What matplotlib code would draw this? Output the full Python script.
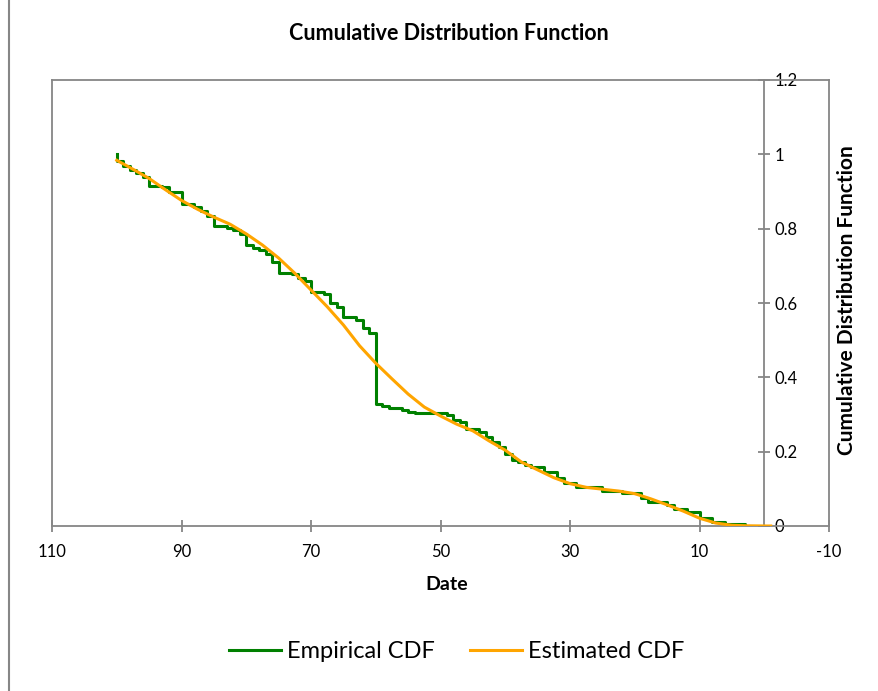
import matplotlib
matplotlib.use("Agg")
import matplotlib.pyplot as plt
from matplotlib.lines import Line2D
from matplotlib.ticker import FuncFormatter

plt.rcParams['font.family'] = ['Lato', 'DejaVu Sans']

# Empirical CDF: jump locations (descending) and level after each jump
emp_start = 1.0
emp_x = [100, 99, 98, 97, 96, 95, 93, 92, 90, 88, 87, 86, 85, 83, 82, 81, 80, 79, 78, 77,
         76, 75, 73, 72, 71, 70, 68, 67, 66, 65, 63, 62, 61, 60, 59, 58, 56, 55, 54, 49,
         48, 47, 46, 44, 43, 42, 41, 40, 39, 38, 37, 36, 34, 32, 31, 29, 25, 22, 19, 18,
         15, 14, 12, 10, 8, 6, 3, 0]
emp_y = [0.981, 0.969, 0.958, 0.951, 0.940, 0.915, 0.911, 0.898, 0.866, 0.859, 0.848, 0.835,
         0.808, 0.803, 0.797, 0.786, 0.756, 0.748, 0.743, 0.732, 0.711, 0.680, 0.677, 0.668,
         0.660, 0.629, 0.623, 0.601, 0.588, 0.561, 0.553, 0.534, 0.518, 0.328, 0.322, 0.318,
         0.312, 0.307, 0.303, 0.298, 0.286, 0.280, 0.262, 0.253, 0.240, 0.226, 0.213, 0.193,
         0.177, 0.171, 0.164, 0.158, 0.146, 0.128, 0.115, 0.104, 0.095, 0.089, 0.075, 0.064,
         0.056, 0.046, 0.038, 0.021, 0.011, 0.005, 0.0, 0.0]

# Estimated CDF (smooth curve)
est_x = [100, 97.5, 95, 92.5, 90, 87.5, 85, 82.5, 80, 77.5, 75, 72.5, 70, 67.5, 65, 62.5, 60,
         57.5, 55, 52.5, 50, 47.5, 45, 42.5, 40, 37.5, 35, 32.5, 30, 27.5, 25, 22.5, 20, 17.5,
         15, 12.5, 10, 7.5, 5, 2.5, 0, -1]
est_y = [0.984, 0.960, 0.935, 0.905, 0.876, 0.852, 0.831, 0.812, 0.786, 0.756, 0.721, 0.680,
         0.635, 0.590, 0.541, 0.485, 0.438, 0.396, 0.355, 0.320, 0.296, 0.274, 0.256, 0.229,
         0.204, 0.172, 0.151, 0.130, 0.114, 0.104, 0.099, 0.094, 0.087, 0.073, 0.057, 0.040,
         0.021, 0.008, 0.002, 0.0005, 0.0, 0.0]

x_ticks = [110, 90, 70, 50, 30, 10, -10]
y_ticks = [0, 0.2, 0.4, 0.6, 0.8, 1.0, 1.2]

W, H = 879, 691
fig = plt.figure(figsize=(W / 100, H / 100), dpi=100)
L, R, T, B = 52, 829, 80, 526
ax = fig.add_axes([L / W, 1 - B / H, (R - L) / W, (B - T) / H])

gray = '#868686'
green = '#008000'
orange = '#FFA500'

sx = [emp_x[0]] + emp_x
sy = [emp_start] + emp_y
ax.step(sx, sy, where='post', color=green, lw=2.2, label='Empirical CDF', zorder=2)
ax.plot(est_x, est_y, color=orange, lw=2.2, label='Estimated CDF', zorder=3)

ax.set_xlim(110, -10)
ax.set_ylim(0, 1.2)

for s in ['top', 'bottom', 'left']:
    ax.spines[s].set_color(gray)
    ax.spines[s].set_linewidth(1.3)
ax.spines['right'].set_position(('data', 0))
ax.spines['right'].set_color(gray)
ax.spines['right'].set_linewidth(1.3)
ax.plot([1, 1], [0, 1], transform=ax.transAxes, color=gray, lw=1.3, clip_on=False)

ax.yaxis.tick_right()
ax.set_yticks(y_ticks)
ax.yaxis.set_major_formatter(FuncFormatter(lambda v, p: '%g' % v))
ax.set_xticks(x_ticks)
ax.xaxis.set_major_formatter(FuncFormatter(lambda v, p: '%g' % v))
ax.tick_params(axis='both', direction='inout', length=8.5, width=1.3, color=gray,
               labelsize=12, labelcolor='black')
ax.tick_params(axis='y', pad=3)
ax.tick_params(axis='x', pad=9)

fig.text(449 / W, 1 - 33 / H, 'Cumulative Distribution Function', ha='center', va='center',
         fontsize=15.5, fontweight='bold')
fig.text(447 / W, 1 - 585 / H, 'Date', ha='center', va='center', fontsize=14,
         fontweight='bold')
fig.text(847 / W, 1 - 300 / H, 'Cumulative Distribution Function', ha='center', va='center',
         rotation=90, fontsize=15, fontweight='bold')

fig.legend(loc='center', bbox_to_anchor=(457 / W, 1 - 652 / H), ncol=2, frameon=False,
           fontsize=17, handlelength=2.2, columnspacing=1.5, handletextpad=0.25)

fig.add_artist(Line2D([8.5 / W, 8.5 / W], [0, 1], color=gray, lw=1.5))

fig.savefig('out.png', dpi=100)
